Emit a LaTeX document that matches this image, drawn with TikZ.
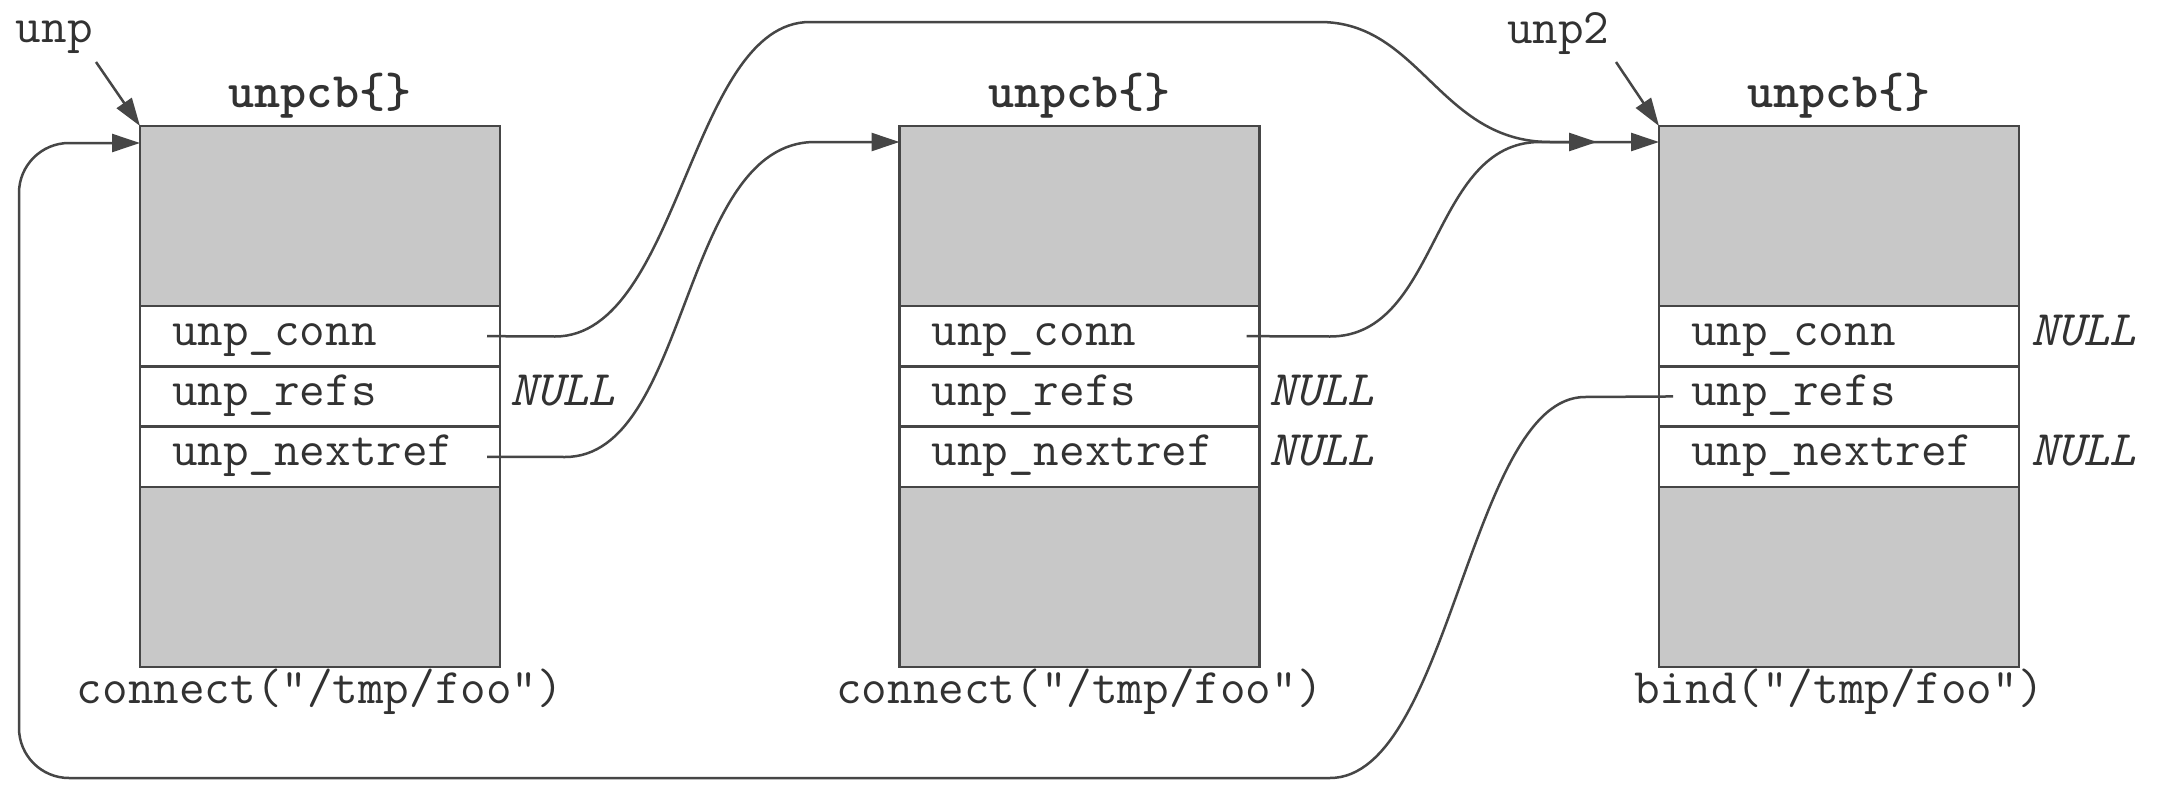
\documentclass[tikz,border=0pt]{standalone}
\usepackage{fontspec}
\usetikzlibrary{arrows.meta}
\definecolor{shade}{RGB}{200,200,200}
\definecolor{ink}{RGB}{70,70,70}
\definecolor{txt}{RGB}{50,50,50}
\begin{document}
\begin{tikzpicture}[x=1pt,y=-1pt,
  every node/.style={outer sep=0pt},
  shadebox/.style={draw=ink, line width=2.5pt, fill=shade, minimum width=360pt, minimum height=180pt, inner sep=0pt},
  rowbox/.style={draw=ink, line width=2.5pt, fill=white, minimum width=360pt, minimum height=60.3pt, inner sep=0pt},
  lbl/.style={text=txt, inner sep=0pt, font=\ttfamily\fontsize{49.7pt}{56pt}\selectfont},
  boldlbl/.style={text=txt, inner sep=0pt, font=\ttfamily\fontsize{49.7pt}{56pt}\selectfont\bfseries},
  nullst/.style={text=txt, inner sep=0pt, font=\ttfamily\fontsize{49.7pt}{56pt}\selectfont\itshape},
  conn/.style={draw=ink, line width=2.5pt, -{Triangle[length=28pt,width=18pt]}}]
\useasboundingbox[fill=white] (0,0) rectangle (2164,787);

\foreach \i/\L in {1/140,2/899.5,3/1659}{
  \node[shadebox, anchor=north west] (top\i) at (\L,126) {};
  \node[rowbox, anchor=north] (conn\i) at (top\i.south) {};
  \node[rowbox, anchor=north] (refs\i) at (conn\i.south) {};
  \node[rowbox, anchor=north] (next\i) at (refs\i.south) {};
  \node[shadebox, anchor=north] (bot\i) at (next\i.south) {};
  \node[lbl, anchor=base west] (tconn\i) at ([xshift=32pt,yshift=-9pt]conn\i.west) {unp\_conn};
  \node[lbl, anchor=base west] (trefs\i) at ([xshift=32pt,yshift=-9pt]refs\i.west) {unp\_refs};
  \node[lbl, anchor=base west] (tnext\i) at ([xshift=32pt,yshift=-9pt]next\i.west) {unp\_nextref};
  \node[boldlbl, anchor=base] (title\i) at ([yshift=19pt]top\i.north) {unpcb\{\}};
}

\node[lbl, anchor=base] (cap1) at ([yshift=-37pt]bot1.south) {connect("/tmp/foo")};
\node[lbl, anchor=base] (cap2) at ([yshift=-37pt]bot2.south) {connect("/tmp/foo")};
\node[lbl, anchor=base] (cap3) at ([yshift=-37pt]bot3.south) {bind("/tmp/foo")};

\node[nullst, anchor=base west] (null1) at ([xshift=10pt,yshift=-9pt]refs1.east) {NULL};
\node[nullst, anchor=base west] (null2) at ([xshift=10pt,yshift=-9pt]refs2.east) {NULL};
\node[nullst, anchor=base west] (null3) at ([xshift=10pt,yshift=-9pt]next2.east) {NULL};
\node[nullst, anchor=base west] (null4) at ([xshift=12pt,yshift=-9pt]conn3.east) {NULL};
\node[nullst, anchor=base west] (null5) at ([xshift=12pt,yshift=-9pt]next3.east) {NULL};

\node[lbl, anchor=base west] (unp) at (16,42) {unp};
\node[lbl, anchor=base west] (unptwo) at (1507,43) {unp2};
\coordinate (unpA) at (96,62);
\coordinate (unpB) at (1616,62);
\draw[conn] (unpA) -- (top1.north west);
\draw[conn] (unpB) -- (top3.north west);

\coordinate (s1) at ([xshift=-13pt]conn1.east);
\coordinate (s2) at ([xshift=-13pt]next1.east);
\coordinate (s3) at ([xshift=-13pt]conn2.east);
\coordinate (s4) at ([xshift=14pt]refs3.west);
\coordinate (in1) at ([yshift=-17pt]top1.north west);
\coordinate (in2) at ([yshift=-16pt]top2.north west);
\coordinate (in3) at ([yshift=-16pt]top3.north west);
\coordinate (mid3) at ([xshift=-62pt,yshift=-16pt]top3.north west);

\draw[conn] (s1) -- (555,336.5) .. controls (680,336.5) and (690,22) .. (810,22)
  -- (1320,22) .. controls (1420,22) and (1440,142) .. (1550,142) -- (in3);
\draw[conn] (s2) -- (565,457) .. controls (690,457) and (680,142) .. (815,142) -- (in2);
\draw[conn] (s3) -- (1330,336.5) .. controls (1440,336.5) and (1430,142) .. (1540,142) -- (mid3);
\draw[conn] (s4) -- (1585,397) .. controls (1470,397) and (1450,778) .. (1330,778)
  [rounded corners=50pt] -- (19,778) -- (19,143) -- (in1);
\end{tikzpicture}
\end{document}
